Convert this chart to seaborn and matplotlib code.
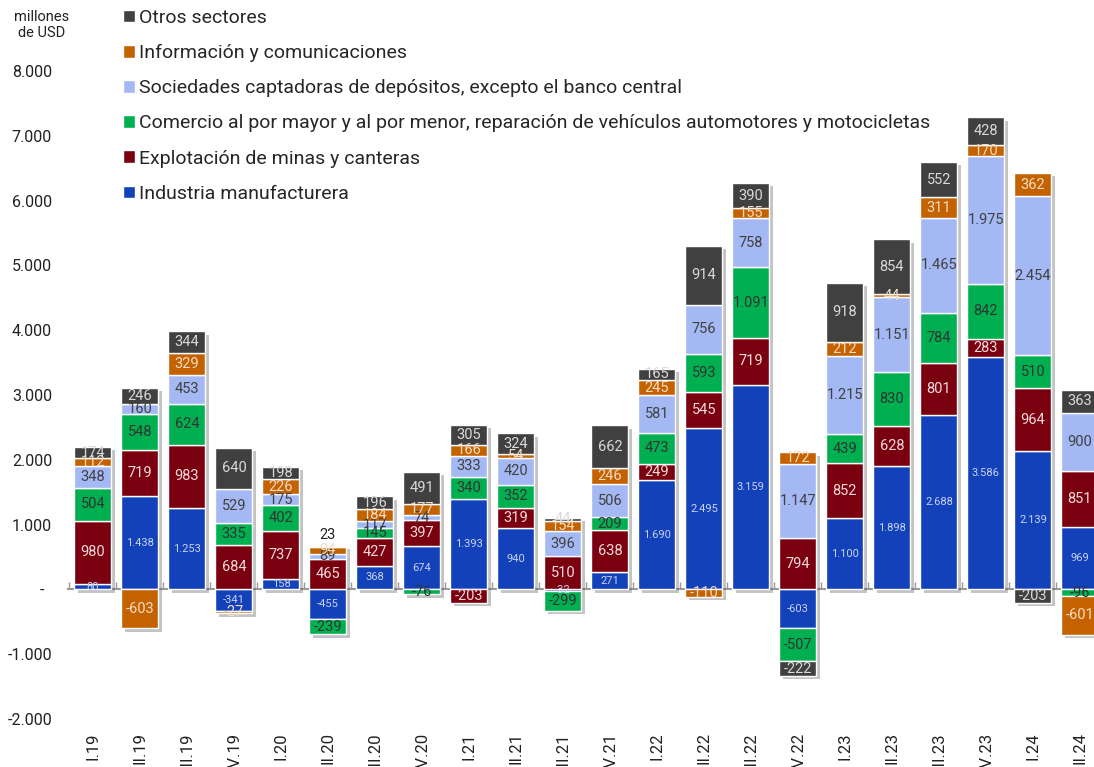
import numpy as np
import matplotlib
matplotlib.use('Agg')
import matplotlib.pyplot as plt
import seaborn as sns
from matplotlib import patheffects as pe
from matplotlib.ticker import FuncFormatter

# trimestres (eje x)
quarters = ['I.19', 'II.19', 'III.19', 'IV.19', 'I.20', 'II.20', 'III.20', 'IV.20',
            'I.21', 'II.21', 'III.21', 'IV.21', 'I.22', 'II.22', 'III.22', 'IV.22',
            'I.23', 'II.23', 'III.23', 'IV.23', 'I.24', 'II.24']

# valores por sector, millones de USD
industria = [80, 1438, 1253, -341, 158, -455, 368, 674, 1393, 940, -32, 271,
             1690, 2495, 3159, -603, 1100, 1898, 2688, 3586, 2139, 969]
mineria = [980, 719, 983, 684, 737, 465, 427, 397, -203, 319, 510, 638,
           249, 545, 719, 794, 852, 628, 801, 283, 964, 851]
comercio = [504, 548, 624, 335, 402, -239, 145, -76, 340, 352, -299, 209,
            473, 593, 1091, -507, 439, 830, 784, 842, 510, -96]
sociedades = [348, 160, 453, 529, 175, 89, 117, 74, 333, 420, 396, 506,
              581, 756, 758, 1147, 1215, 1151, 1465, 1975, 2454, 900]
informacion = [112, -603, 329, -27, 226, 94, 184, 177, 166, 54, 154, 246,
               245, -110, 155, 172, 212, 44, 311, 170, 362, -601]
otros = [174, 246, 344, 640, 198, 23, 196, 491, 305, 324, 44, 662,
         165, 914, 390, -222, 918, 854, 552, 428, -203, 363]

sectores = ['Industria manufacturera',
            'Explotación de minas y canteras',
            'Comercio al por mayor y al por menor, reparación de vehículos automotores y motocicletas',
            'Sociedades captadoras de depósitos, excepto el banco central',
            'Información y comunicaciones',
            'Otros sectores']

series = [industria, mineria, comercio, sociedades, informacion, otros]
colores = ['#1341b9', '#7a0010', '#00b050', '#a4b8f4', '#c46200', '#404040']
colores_txt = ['#c9d3f2', '#f2dada', '#333333', '#404040', '#f3dcc4', '#d9d9d9']
tam_txt = [8, 10.5, 10.5, 10.5, 10.5, 10.5]

sns.set_theme(style='white')
plt.rcParams['font.family'] = ['Roboto', 'DejaVu Sans']

W, H = 1094, 767
fig = plt.figure(figsize=(W / 100, H / 100), dpi=100)
ax = fig.add_axes([68 / W, (H - 719) / H, 1 - 68 / W, (719 - 71) / H])

x = np.arange(len(quarters))
ancho = 0.79
base_pos = np.zeros(len(x))
base_neg = np.zeros(len(x))

for nombre, vals, col, tcol, fs in zip(sectores, series, colores, colores_txt, tam_txt):
    v = np.array(vals, dtype=float)
    bottom = np.where(v >= 0, base_pos, base_neg)
    # sombra primero, debajo de todas las barras
    ax.bar(x, v, bottom=bottom, width=ancho, color=col, zorder=1,
           path_effects=[pe.SimplePatchShadow(offset=(2.5, -2.5), shadow_rgbFace='#555555', alpha=0.35)])
    ax.bar(x, v, bottom=bottom, width=ancho, color=col, zorder=2, label=nombre)
    for i in range(len(x)):
        txt = f'{v[i]:,.0f}'.replace(',', '.')
        if nombre == 'Otros sectores' and 0 < v[i] < 30:
            ax.text(x[i], bottom[i] + v[i] + 60, txt, ha='center', va='bottom',
                    fontsize=fs, color='#222222', zorder=3)
        else:
            ax.text(x[i], bottom[i] + v[i] / 2, txt, ha='center', va='center',
                    fontsize=fs, color=tcol, zorder=3)
    base_pos += np.clip(v, 0, None)
    base_neg += np.clip(v, None, 0)

ax.set_xlim(-0.53, 21.3)
ax.set_ylim(-2000, 8000)
ax.set_yticks(np.arange(-2000, 8001, 1000))
ax.yaxis.set_major_formatter(FuncFormatter(
    lambda v, p: '-  ' if v == 0 else f'{v:,.0f}'.replace(',', '.')))
ax.set_xticks(x)
ax.set_xticklabels(quarters, rotation=90)
ax.tick_params(axis='y', length=0, pad=11.5, labelsize=11.5, labelcolor='#222222')
ax.tick_params(axis='x', length=0, pad=9.5, labelsize=12, labelcolor='#222222')
for s in ax.spines.values():
    s.set_visible(False)

# linea del cero con marcas entre barras
eje0 = ax.secondary_xaxis(0.2)
eje0.set_xticks(np.arange(-0.5, len(x), 1))
eje0.tick_params(direction='in', length=5, width=1, color='#999999', labelbottom=False)
eje0.spines['bottom'].set_color('#999999')
eje0.spines['bottom'].set_linewidth(1.5)

fig.text(42 / W, 1 - 10 / H, 'millones\nde USD', ha='center', va='top',
         fontsize=10.5, color='#222222', linespacing=1.15)

h, l = ax.get_legend_handles_labels()
fig.legend(h[::-1], l[::-1], loc='upper left', bbox_to_anchor=(123 / W, 1 - 9 / H),
           frameon=False, fontsize=14, borderpad=0, borderaxespad=0,
           handlelength=0.62, handleheight=0.62, handletextpad=0.2, labelspacing=0.88)

fig.savefig('out.png', dpi=100)
